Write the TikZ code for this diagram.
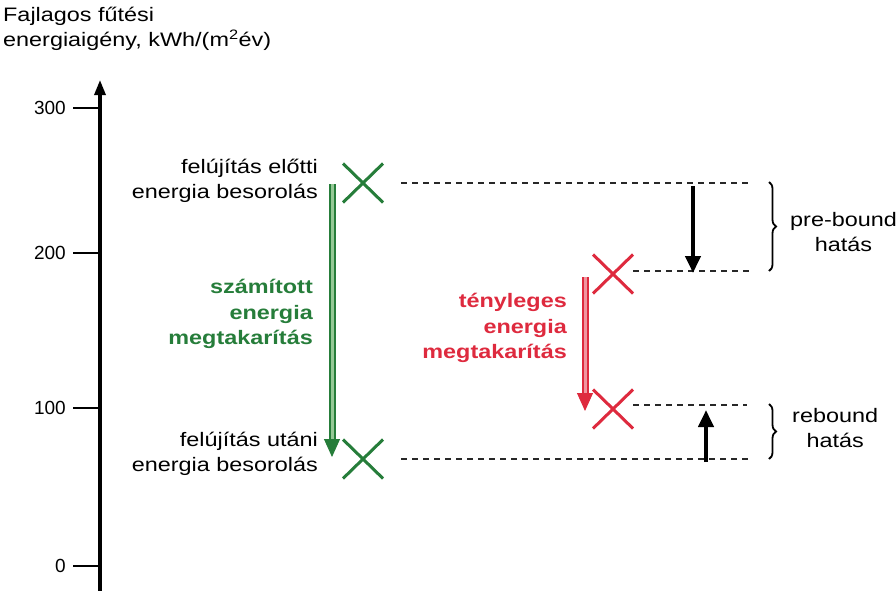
\documentclass[tikz,border=0pt]{standalone}
\usepackage{fontspec}
\setmainfont{Liberation Sans}[FakeStretch=1.2]
\newfontfamily\tickfont{Liberation Sans}
\usetikzlibrary{positioning,arrows.meta,shapes.misc,decorations.pathreplacing}

\definecolor{szgreen}{RGB}{38,125,58}
\definecolor{szlightgreen}{RGB}{150,200,150}
\definecolor{tyred}{RGB}{222,42,62}
\definecolor{tylightred}{RGB}{240,150,160}
\definecolor{dashgray}{RGB}{40,40,40}

\tikzset{
  txt/.style={font=\fontsize{19.5}{25}\selectfont, inner sep=0pt},
  lbl/.style={txt, align=right},
  savetxt/.style={txt, align=right, font=\fontsize{19.5}{25.5}\selectfont\bfseries},
  sidelbl/.style={txt, align=center},
  ticklbl/.style={font=\tickfont\fontsize{19}{22}\selectfont, inner sep=0pt, anchor=east},
  crossmark/.style={cross out, draw, line width=3pt, minimum width=37pt, minimum height=36pt, inner sep=0pt},
  axisline/.style={line width=3.2pt, -{Triangle[length=15pt,width=11pt]}},
  tickline/.style={line width=2.4pt},
  levelline/.style={dashgray, line width=2pt, dash pattern=on 6pt off 5pt},
  effarrow/.style={line width=4pt, -{Triangle[length=17pt,width=15pt]}},
  shaft/.style={line width=2pt, double distance=3pt},
  tip/.style={line width=1pt, -{Triangle[length=18pt,width=16pt]}},
  bracket/.style={line width=1.8pt, decorate, decoration={brace, amplitude=7pt}},
}

\begin{document}
\begin{tikzpicture}[x=1pt, y=-1pt]
  \useasboundingbox (0,0) rectangle (896,590);

  % 1. Tengely es felirata
  \node[txt, anchor=north west, align=left] (title) at (3,7)
    {Fajlagos fűtési\\energiaigény, kWh/(m\textsuperscript{2}év)};
  \coordinate (axbot) at (100,592);
  \coordinate (axtop) at (100,80);
  \draw[axisline] (axbot) -- (axtop);

  % 2. Osztasok
  \foreach \v/\y in {300/108, 200/253, 100/408, 0/566} {
    \node[ticklbl] (t\v) at (66,\y) {\v};
    \draw[tickline] ([xshift=7pt]t\v.east) -- (t\v.east -| axtop);
  }

  % 3. Szamitott besorolasok (zold)
  \node[crossmark, szgreen] (gx1) at (363,183) {};
  \node[crossmark, szgreen] (gx2) at (363,459) {};
  \node[lbl, anchor=east] (before) at (318,181) {felújítás előtti\\energia besorolás};
  \node[lbl, anchor=east] (after) at (318,454) {felújítás utáni\\energia besorolás};

  % 4. Tenyleges fogyasztas (piros)
  \node[crossmark, tyred] (rx1) at (613,274) {};
  \node[crossmark, tyred] (rx2) at (613,409) {};

  % 5. Szaggatott szintvonalak
  \coordinate (d1) at (752,183);
  \coordinate (d2) at (752,271);
  \coordinate (d3) at (747,405);
  \coordinate (d4) at (752,459);
  \draw[levelline] ([xshift=18pt]gx1.east |- d1) -- (d1);
  \draw[levelline] (rx1.east |- d2) -- (d2);
  \draw[levelline] (rx2.east |- d3) -- (d3);
  \draw[levelline] ([xshift=18pt]gx2.east |- d4) -- (d4);

  % 6. Megtakaritas nyilai
  \coordinate (ga1) at (332,184);
  \coordinate (ga2) at (332,440);
  \coordinate (ga3) at (332,457);
  \draw[shaft, draw=szgreen, double=szlightgreen] (ga1) -- (ga2);
  \draw[tip, szgreen] ([yshift=-4pt]ga2) -- (ga3);
  \node[savetxt, szgreen, anchor=east] (calc) at (313,314)
    {számított\\energia\\megtakarítás};

  \coordinate (ra1) at (585,277);
  \coordinate (ra2) at (585,394);
  \coordinate (ra3) at (585,411);
  \draw[shaft, draw=tyred, double=tylightred] (ra1) -- (ra2);
  \draw[tip, tyred] ([yshift=-4pt]ra2) -- (ra3);
  \node[savetxt, tyred, anchor=east] (real) at (567,328)
    {tényleges\\energia\\megtakarítás};

  % 7. Pre-bound es rebound hatas
  \coordinate (pb1) at (693,186);
  \coordinate (pb2) at (693,273);
  \draw[effarrow] (pb1) -- (pb2);
  \coordinate (rb1) at (706,462);
  \coordinate (rb2) at (706,410);
  \draw[effarrow] (rb1) -- (rb2);

  \coordinate (br1) at (769,182);
  \coordinate (br2) at (769,271);
  \draw[bracket] (br1) -- (br2);
  \node[sidelbl, anchor=west] (prebound) at (790,232) {pre-bound\\hatás};
  \coordinate (br3) at (769,404);
  \coordinate (br4) at (769,459);
  \draw[bracket] (br3) -- (br4);
  \node[sidelbl, anchor=west] (rebound) at (792,428) {rebound\\hatás};
\end{tikzpicture}
\end{document}
